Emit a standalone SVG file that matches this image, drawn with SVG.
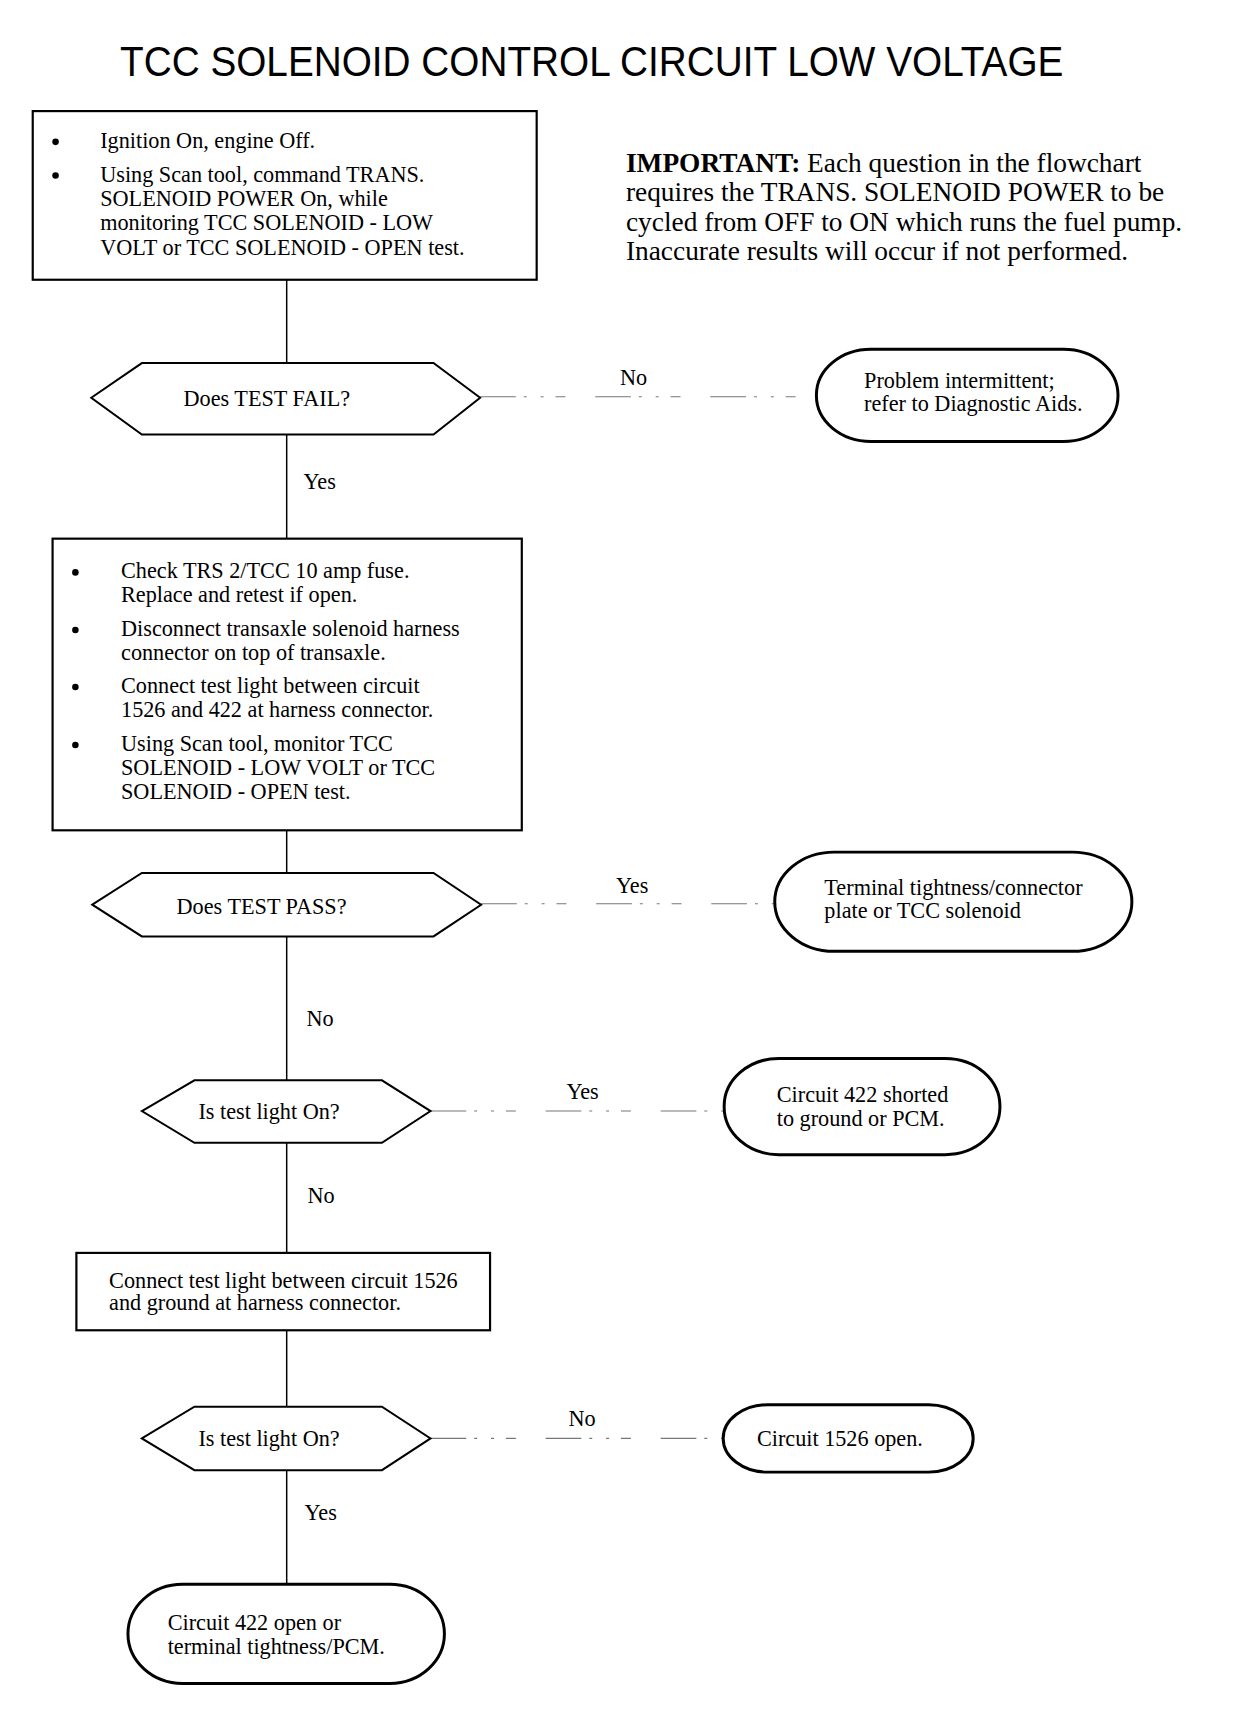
<svg xmlns="http://www.w3.org/2000/svg" width="1248" height="1710" viewBox="0 0 1248 1710">
<style>
.t{font-family:"Liberation Serif","Times New Roman",serif;font-size:22.4px;fill:#000}
.imp{font-family:"Liberation Serif","Times New Roman",serif;font-size:27.6px;fill:#000}
.title{font-family:"Liberation Sans",Arial,sans-serif;font-size:42px;fill:#000}
.box{fill:#fff;stroke:#000;stroke-width:2.2}
.hex{fill:#fff;stroke:#000;stroke-width:2}
.term{fill:#fff;stroke:#000;stroke-width:3}
.v{stroke:#000;stroke-width:1.5;fill:none}
.d{stroke:#777;stroke-width:1.1;fill:none;stroke-dasharray:36 8 3 14 3 12 10 30}
.dot{fill:#000}
</style>
<rect width="1248" height="1710" fill="#fff"/>
<g transform="scale(0.992)">
<text class="title" x="121" y="77" textLength="951" lengthAdjust="spacingAndGlyphs">TCC SOLENOID CONTROL CIRCUIT LOW VOLTAGE</text>
<g id="important">
<text class="imp" x="631" y="173"><tspan font-weight="bold">IMPORTANT:</tspan>  Each question in the flowchart</text>
<text class="imp" x="631" y="202.5">requires the TRANS. SOLENOID POWER to be</text>
<text class="imp" x="631" y="232.5">cycled from OFF to ON which runs the fuel pump.</text>
<text class="imp" x="631" y="262">Inaccurate results will occur if not performed.</text>
</g>
<g id="connectors">
<line class="v" x1="289" y1="282" x2="289" y2="366"/>
<line class="v" x1="289" y1="438" x2="289" y2="543"/>
<line class="v" x1="289" y1="837" x2="289" y2="880"/>
<line class="v" x1="289" y1="944" x2="289" y2="1089"/>
<line class="v" x1="289" y1="1152" x2="289" y2="1263"/>
<line class="v" x1="289" y1="1341" x2="289" y2="1418"/>
<line class="v" x1="289" y1="1482" x2="289" y2="1597"/>
<line class="d" x1="484" y1="400" x2="823" y2="400"/>
<line class="d" x1="485" y1="911" x2="781" y2="911"/>
<line class="d" x1="434" y1="1120" x2="730" y2="1120"/>
<line class="d" x1="434" y1="1450" x2="729" y2="1450"/>
<text class="t" x="625" y="388">No</text>
<text class="t" x="306" y="493">Yes</text>
<text class="t" x="621" y="900">Yes</text>
<text class="t" x="309" y="1034">No</text>
<text class="t" x="571" y="1108">Yes</text>
<text class="t" x="310" y="1213">No</text>
<text class="t" x="573" y="1438">No</text>
<text class="t" x="307" y="1532">Yes</text>
</g>
<g id="box1">
<rect class="box" x="33" y="112" width="508" height="170"/>
<circle class="dot" cx="56" cy="143" r="3.3"/>
<text class="t" x="101" y="149">Ignition On, engine Off.</text>
<circle class="dot" cx="56" cy="177" r="3.3"/>
<text class="t" x="101" y="183">Using Scan tool, command TRANS.</text>
<text class="t" x="101" y="207.5">SOLENOID POWER On, while</text>
<text class="t" x="101" y="232">monitoring TCC SOLENOID - LOW</text>
<text class="t" x="101" y="257">VOLT or TCC SOLENOID - OPEN test.</text>
</g>
<g id="dec1">
<polygon class="hex" points="92,401 143,366 437,366 484,401 437,438 143,438"/>
<text class="t" x="185" y="409">Does TEST FAIL?</text>
</g>
<g id="term1">
<rect class="term" x="823" y="352" width="304" height="93" rx="55" ry="46"/>
<text class="t" x="871" y="391">Problem intermittent;</text>
<text class="t" x="871" y="414">refer to Diagnostic Aids.</text>
</g>
<g id="box2">
<rect class="box" x="53" y="543" width="473" height="294"/>
<circle class="dot" cx="76" cy="577" r="3.3"/>
<text class="t" x="122" y="583">Check TRS 2/TCC 10 amp fuse.</text>
<text class="t" x="122" y="607">Replace and retest if open.</text>
<circle class="dot" cx="76" cy="635" r="3.3"/>
<text class="t" x="122" y="641">Disconnect transaxle solenoid harness</text>
<text class="t" x="122" y="665.5">connector on top of transaxle.</text>
<circle class="dot" cx="76" cy="692.5" r="3.3"/>
<text class="t" x="122" y="698.5">Connect test light between circuit</text>
<text class="t" x="122" y="723">1526 and 422 at harness connector.</text>
<circle class="dot" cx="76" cy="751" r="3.3"/>
<text class="t" x="122" y="757">Using Scan tool, monitor TCC</text>
<text class="t" x="122" y="781">SOLENOID - LOW VOLT or TCC</text>
<text class="t" x="122" y="805">SOLENOID - OPEN test.</text>
</g>
<g id="dec2">
<polygon class="hex" points="93,912 143,880 437,880 485,912 437,944 143,944"/>
<text class="t" x="178" y="921">Does TEST PASS?</text>
</g>
<g id="term2">
<rect class="term" x="781" y="859" width="360" height="100" rx="60" ry="50"/>
<text class="t" x="831" y="902">Terminal tightness/connector</text>
<text class="t" x="831" y="925">plate or TCC solenoid</text>
</g>
<g id="dec3">
<polygon class="hex" points="143,1120 196,1089 385,1089 434,1120 385,1152 196,1152"/>
<text class="t" x="200" y="1128">Is test light On?</text>
</g>
<g id="term3">
<rect class="term" x="730" y="1067" width="278" height="97" rx="55" ry="48"/>
<text class="t" x="783" y="1111">Circuit 422 shorted</text>
<text class="t" x="783" y="1135">to ground or PCM.</text>
</g>
<g id="box3">
<rect class="box" x="77" y="1263" width="417" height="78"/>
<text class="t" x="110" y="1298">Connect test light between circuit 1526</text>
<text class="t" x="110" y="1321">and ground at harness connector.</text>
</g>
<g id="dec4">
<polygon class="hex" points="143,1450 196,1418 385,1418 434,1450 385,1482 196,1482"/>
<text class="t" x="200" y="1458">Is test light On?</text>
</g>
<g id="term4">
<rect class="term" x="729" y="1416" width="252" height="68" rx="45" ry="34"/>
<text class="t" x="763" y="1458">Circuit 1526 open.</text>
</g>
<g id="term5">
<rect class="term" x="129" y="1597" width="319" height="100" rx="55" ry="50"/>
<text class="t" x="169" y="1643">Circuit 422 open or</text>
<text class="t" x="169" y="1667">terminal tightness/PCM.</text>
</g>
</g>
</svg>
